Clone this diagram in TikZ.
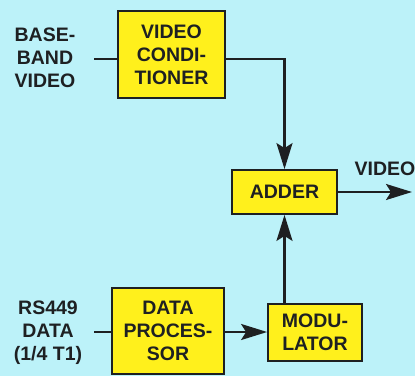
\documentclass[tikz,border=0pt]{standalone}
\usepackage{fontspec}
\setmainfont{Liberation Sans}
\usepackage{xcolor}
\definecolor{bgcyan}{HTML}{BCF2F9}
\definecolor{boxyellow}{HTML}{FFF01C}
\definecolor{inkdark}{HTML}{1E2022}
\usepackage{tikz}
\usetikzlibrary{arrows.meta,positioning}
\tikzset{
  >={Stealth[length=26pt,width=16pt,inset=5pt]},
  every picture/.style={line join=miter},
  lbl/.style={font=\fontsize{19.5}{23}\selectfont\bfseries, text=inkdark, align=center},
  blockbox/.style={lbl, draw=inkdark, fill=boxyellow, line width=1.8pt, inner sep=0pt},
  wire/.style={inkdark, line width=2.2pt},
}

\begin{document}
\begin{tikzpicture}[x=1pt, y=1pt]
% background
\fill[bgcyan] (0,0) rectangle (415,376);
\useasboundingbox (0,0) rectangle (415,376);
% blocks
\node[blockbox, minimum width=107pt, minimum height=87pt] (vc) at (171.5,321.5) {VIDEO\\CONDI-\\TIONER};
\node[blockbox, minimum width=105pt, minimum height=44pt] (adder) at (284.5,184) {ADDER};
\node[blockbox, minimum width=112pt, minimum height=86pt] (dp) at (168,45) {DATA\\PROCES-\\SOR};
\node[blockbox, minimum width=94pt, minimum height=57pt] (mod) at (315,43.5) {MODU-\\LATOR};
% inputs and output
\node[lbl] (bbv) at (45,318) {BASE-\\BAND\\VIDEO};
\node[lbl] (rsdata) at (48,43) {RS449\\DATA\\(1/4 T1)};
\coordinate (bbin) at (94,317);
\coordinate (rsin) at (94,44);
\coordinate (vidout) at (412,184);
\node[lbl, anchor=south] (vidlbl) at (385,197) {VIDEO};
% connectors
\draw[wire] (bbin) -- (bbin -| vc.west);
\draw[wire, ->] (vc.east |- bbin) -| (adder.north);
\draw[wire, ->] (adder.east) -- (vidout);
\draw[wire] (rsin) -- (rsin -| dp.west);
\draw[wire, ->] (dp.east |- rsin) -- (rsin -| mod.west);
\draw[wire, ->] (adder.south |- mod.north) -- (adder.south);
\end{tikzpicture}
\end{document}
